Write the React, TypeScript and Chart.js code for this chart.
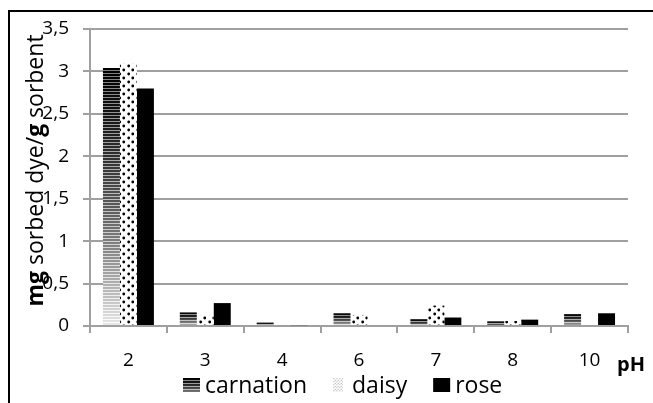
import React, { useEffect, useRef } from 'react';
import { Chart, registerables } from 'chart.js';

Chart.register(...registerables);

const categories = ['2', '3', '4', '6', '7', '8', '10'];
const seriesNames = ['carnation', 'daisy', 'rose'];
const carnation = [3.04, 0.16, 0.04, 0.15, 0.08, 0.055, 0.14];
const daisy = [3.09, 0.12, 0.0, 0.13, 0.24, 0.06, 0.0];
const rose = [2.8, 0.27, 0.01, 0.0, 0.1, 0.075, 0.15];
const yMin = 0;
const yMax = 3.5;
const yStep = 0.5;
const yTitleParts: [string, boolean][] = [['mg', true], [' sorbed dye/', false], ['g', true], [' sorbent', false]];
const xTitle = 'pH';

const FONT = '"Open Sans", "Liberation Sans", sans-serif';
const GRID = '#a0a0a0';

function makeDotPattern(ctx: CanvasRenderingContext2D, dot: string, w: number, h: number, r: number) {
  const p = document.createElement('canvas');
  p.width = w;
  p.height = h;
  const g = p.getContext('2d')!;
  g.fillStyle = '#ffffff';
  g.fillRect(0, 0, w, h);
  g.fillStyle = dot;
  g.beginPath();
  g.arc(w * 0.3, h * 0.25, r, 0, Math.PI * 2);
  g.fill();
  g.beginPath();
  g.arc(w * 0.75, h * 0.75, r, 0, Math.PI * 2);
  g.fill();
  return ctx.createPattern(p, 'repeat')!;
}

function makeStripe(ctx: CanvasRenderingContext2D, top: number, base: number) {
  if (!isFinite(top) || !isFinite(base)) return '#555';
  const h = Math.max(2, Math.ceil(base - top) + 1);
  const p = document.createElement('canvas');
  p.width = 1;
  p.height = h;
  const g = p.getContext('2d')!;
  for (let r = 0; r < h; r++) {
    const t = r / h;
    let v: number;
    if (r % 3 === 2) v = Math.min(255, 125 + 130 * t);
    else v = Math.min(255, 235 * t * t * 0.6 + 235 * t * 0.4);
    const c = Math.round(v);
    g.fillStyle = `rgb(${c},${c},${c})`;
    g.fillRect(0, r, 1, 1);
  }
  const pat = ctx.createPattern(p, 'repeat')!;
  pat.setTransform(new DOMMatrix().translate(0, Math.floor(top)));
  return pat;
}

export default function App() {
  const ref = useRef<HTMLCanvasElement>(null);

  useEffect(() => {
    const canvas = ref.current!;
    const ctx = canvas.getContext('2d')!;
    const daisyPat = makeDotPattern(ctx, '#000000', 9, 8, 1.4);
    const daisyLegendPat = makeDotPattern(ctx, '#9a9a9a', 3, 3, 0.6);

    const carnationColor = (c: any) => {
      const chart = c.chart;
      const y = chart.scales && chart.scales.y;
      if (!y || c.type !== 'data') return '#555';
      const top = y.getPixelForValue(c.raw);
      const base = y.getPixelForValue(0);
      return makeStripe(chart.ctx, top, base);
    };

    const overlay = {
      id: 'overlay',
      afterDraw(chart: any) {
        const g: CanvasRenderingContext2D = chart.ctx;
        // Y title with mixed weights
        g.save();
        const size = 23;
        const f = (b: boolean) => `${b ? 'bold ' : ''}${size}px ${FONT}`;
        let total = 0;
        for (const [t, b] of yTitleParts) {
          g.font = f(b);
          total += g.measureText(t).width;
        }
        const area = chart.chartArea;
        g.translate(43, (area.top + area.bottom) / 2 - 7);
        g.rotate(-Math.PI / 2);
        g.textBaseline = 'alphabetic';
        g.textAlign = 'left';
        g.fillStyle = '#000';
        let x = -total / 2;
        for (const [t, b] of yTitleParts) {
          g.font = f(b);
          g.fillText(t, x, 0);
          x += g.measureText(t).width;
        }
        g.restore();

        // X title
        g.save();
        g.font = `bold 20px ${FONT}`;
        g.fillStyle = '#000';
        g.textAlign = 'left';
        g.textBaseline = 'alphabetic';
        g.fillText(xTitle, 617, 371);
        g.restore();

        // Legend
        g.save();
        g.font = `23px ${FONT}`;
        g.textBaseline = 'alphabetic';
        g.textAlign = 'left';
        const swW = [17, 10, 17];
        const fills: any[] = [makeStripe(g, 378, 398), daisyLegendPat, '#000'];
        let lx = 183;
        seriesNames.forEach((name, i) => {
          g.fillStyle = fills[i];
          g.fillRect(lx, 378, swW[i], 14);
          lx += swW[i] + (i === 1 ? 9 : 5);
          g.fillStyle = '#000';
          g.fillText(name, lx, 392.5);
          lx += g.measureText(name).width + 26;
        });
        g.restore();
      },
    };

    const chart = new Chart(canvas, {
      type: 'bar',
      data: {
        labels: categories,
        datasets: [
          { label: seriesNames[0], data: carnation, backgroundColor: carnationColor as any, borderWidth: 0 },
          { label: seriesNames[1], data: daisy, backgroundColor: daisyPat as any, borderWidth: 0 },
          { label: seriesNames[2], data: rose, backgroundColor: '#000000', borderWidth: 0 },
        ],
      },
      options: {
        responsive: false,
        animation: false,
        devicePixelRatio: 1,
        layout: { padding: { top: 29, right: 25, left: 0, bottom: 0 } },
        datasets: { bar: { categoryPercentage: 0.663, barPercentage: 1.0 } },
        plugins: {
          legend: { display: false },
          tooltip: { enabled: false },
          title: { display: false },
        },
        scales: {
          x: {
            grid: { drawOnChartArea: false, drawTicks: true, tickLength: 7, color: GRID, lineWidth: 2, offset: true },
            border: { color: GRID, width: 2 },
            ticks: { color: '#000', font: { family: FONT, size: 19 }, padding: 16, maxRotation: 0 },
            afterFit: (s: any) => { s.height = 77; },
          },
          y: {
            min: yMin,
            max: yMax,
            grid: { color: GRID, lineWidth: 2, tickLength: 7, drawTicks: true },
            border: { color: GRID, width: 2 },
            ticks: {
              stepSize: yStep,
              color: '#000',
              font: { family: FONT, size: 19 },
              padding: 14,
              callback: (v: any) => String(v).replace('.', ','),
            },
            afterFit: (s: any) => { s.width = 90; },
          },
        },
      },
      plugins: [overlay],
    });
    return () => chart.destroy();
  }, []);

  return (
    <div style={{ position: 'absolute', left: 0, top: 0, width: 653, height: 403, background: '#fff' }}>
      <div style={{ position: 'absolute', left: 8, top: 10, width: 700, height: 500, borderTop: '2px solid #000', borderLeft: '2px solid #000' }} />
      <canvas ref={ref} width={653} height={403} style={{ position: 'absolute', left: 0, top: 0, width: 653, height: 403 }} />
    </div>
  );
}
